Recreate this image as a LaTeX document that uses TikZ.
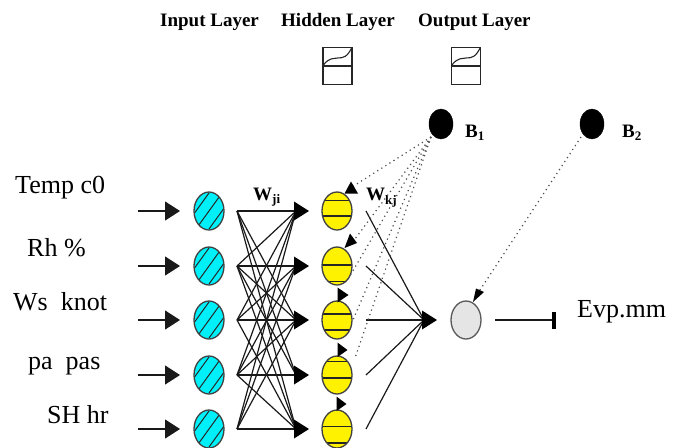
\documentclass[tikz,border=0pt]{standalone}
\usepackage{fontspec}
\setmainfont{Liberation Serif}
\usetikzlibrary{arrows.meta,shapes.geometric}
\definecolor{aqua}{RGB}{0,240,250}
\tikzset{
  bigtip/.style={-{Triangle[length=15pt,width=19pt]}},
  conn/.style={line width=1.2pt,black!90},
  dots/.style={line width=1.2pt,black!70,dash pattern=on 1.2pt off 3.6pt},
  neuron/.style={ellipse,draw=black!75,line width=1.3pt,minimum width=30pt,minimum height=38pt,inner sep=0pt},
  inp/.style={neuron,fill=aqua,path picture={
    \begin{scope}[shift={(path picture bounding box.center)}]
    \foreach \o in {-13,0,13}{\draw[black!85,line width=1pt] (\o-13,18)--(\o+13,-18);}
    \end{scope}}},
  hid/.style 2 args={neuron,fill=yellow,path picture={
    \begin{scope}[shift={(path picture bounding box.center)}]
    \draw[black!85,line width=1.3pt] (-20,#1)--(20,#1) (-20,#2)--(20,#2);
    \end{scope}}},
  lab/.style={inner sep=0pt,anchor=base west,font=\fontsize{26}{26}\selectfont},
  head/.style={inner sep=0pt,anchor=base west,font=\fontsize{19}{19}\selectfont\bfseries},
  sub/.style={inner sep=0pt,anchor=base west,font=\fontsize{19}{19}\selectfont\bfseries},
  bias/.style={ellipse,fill=black,draw=black,minimum width=24pt,minimum height=30pt,inner sep=0pt},
  fbox/.style={draw=black!85,line width=1.1pt,minimum width=29pt,minimum height=37pt,inner sep=0pt,
   path picture={
    \begin{scope}[shift={(path picture bounding box.center)}]
    \draw[black!85,line width=1.1pt] (-15,0)--(15,0);
    \draw[black!85,line width=1.1pt] (-14.5,-0.5) .. controls (-8,-9) and (-4,-7) .. (0,-8) .. controls (6,-8) and (10,-9) .. (14.5,-19);
    \end{scope}}},
}
\newcommand{\subs}[1]{\raisebox{-3.5pt}{\fontsize{13}{13}\selectfont #1}}
\begin{document}
\begin{tikzpicture}[x=1pt,y=-1pt]
\useasboundingbox (0,0) rectangle (682,447);
% labels
\node[head] (h1) at (160,27) {Input Layer};
\node[head] (h2) at (281,27) {Hidden Layer};
\node[head] (h3) at (418,27) {Output Layer};
\node[fbox] (f1) at (337.5,66) {};
\node[fbox] (f2) at (466,66) {};
\node[lab] (t1) at (15,193) {Temp c0};
\node[lab] (t2) at (27,256) {Rh \%};
\node[lab] (t3) at (13,310) {Ws\ \ knot};
\node[lab] (t4) at (28,369) {pa\ \ pas};
\node[lab] (t5) at (47,423) {SH hr};
\node[lab] (t6) at (577,317) {Evp.mm};
\node[sub] (wji) at (253,200) {W\subs{ji}};
\node[sub] (wkj) at (366,200.5) {W\subs{kj}};
% neurons
\foreach \i/\y in {1/211,2/266,3/320,4/375,5/429}{
  \node[inp] (i\i) at (209,\y) {};
  \coordinate (s\i) at (138,\y);
  \coordinate (e\i) at (180,\y);
  \coordinate (o\i) at (237,\y);
  \coordinate (d\i) at (296,\y);
  \coordinate (t\i) at (309,\y);
  \coordinate (r\i) at (366,\y);
  \draw[conn,bigtip] (s\i) -- (e\i);
}
\node[hid={-10.5}{5}] (n1) at (337,211) {};
\node[hid={-1}{15.5}] (n2) at (337,266) {};
\node[hid={-6}{10}] (n3) at (337,320) {};
\node[hid={-13.5}{3}] (n4) at (337,375) {};
\node[hid={-2.5}{14}] (n5) at (337,429) {};
\node[neuron,fill=black!10,draw=black!65] (out) at (466,320) {};
\node[bias] (b1) at (441,124) {};
\node[bias] (b2) at (592,124) {};
\node[sub] (lb1) at (465,137) {B\subs{1}};
\node[sub] (lb2) at (622,137) {B\subs{2}};
% connections
\foreach \i/\j in {1/1,1/3,1/4,1/5,
                   2/1,2/2,2/3,2/4,2/5,
                   3/1,3/2,3/3,3/5,
                   4/1,4/2,4/3,4/4,4/5,
                   5/1,5/2,5/3,5/5}{
  \draw[conn] (o\i) -- (d\j);
}
\foreach \j in {1,...,5}{
  \fill[black] (t\j) -- ++(-15,-9.5) -- ++(0,19) -- cycle;
}
\coordinate (c) at (437,320);
\coordinate (cb) at (424,320);
\foreach \i in {1,...,5}{\draw[conn] (r\i) -- (cb);}
\fill[black] (c) -- ++(-15,-9.5) -- ++(0,19) -- cycle;
\coordinate (x0) at (495,320);
\coordinate (x1) at (553,320);
\draw[conn] (x0) -- (x1);
\fill[black] (551.5,311.5) rectangle (556,329);
% dotted
\coordinate (p1) at (352,187);
\coordinate (p2) at (352,243);
\coordinate (p3) at (347,281);
\coordinate (p4) at (353,320);
\coordinate (p5) at (355,358);
\coordinate (b1o) at (431,137);
\draw[dots] (b1o) -- (p1);
\draw[dots] (b1o) -- (p2);
\draw[dots] (b1o) -- (p3);
\draw[dots] (b1o) -- (p4);
\draw[dots] (b1o) -- (p5);
\coordinate (b2o) at (581,137);
\coordinate (oi) at (476,296);
\draw[dots] (b2o) -- (oi);
% small tips
\fill[black] (351,181.5) -- (344.5,193.5) -- (358,193.5) -- cycle;
\fill[black] (344.5,248) -- (350,233.5) -- (357,243) -- cycle;
\fill[black] (348.5,295) -- (337.5,287.5) -- (337.5,302.5) -- cycle;
\fill[black] (347.5,350) -- (337.5,342.5) -- (337.5,357) -- cycle;
\fill[black] (346.5,404) -- (336.5,396.5) -- (336.5,411) -- cycle;
\fill[black] (473,302) -- (484,292) -- (476,288.5) -- cycle;
\end{tikzpicture}
\end{document}
